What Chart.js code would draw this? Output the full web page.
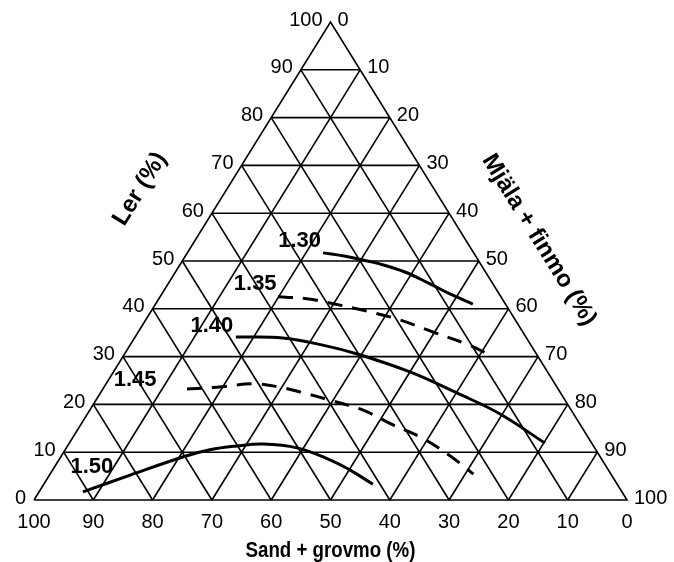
<!DOCTYPE html>
<html lang="sv">
<head>
    <meta charset="UTF-8">
    <title>Ler / Mjäla / Sand</title>
    <script src="https://cdn.jsdelivr.net/npm/chart.js"></script>
    <style>
        body { margin: 0; background: #fff; }
        #wrap { width: 674px; height: 562px; position: relative; }
    </style>
</head>
<body>
    <div id="wrap"><canvas id="chart"></canvas></div>
    <script>
        // tick labels on the three sides
        const lerTicks = [0, 10, 20, 30, 40, 50, 60, 70, 80, 90, 100];
        const mjalaTicks = [0, 10, 20, 30, 40, 50, 60, 70, 80, 90, 100];
        const sandTicks = [100, 90, 80, 70, 60, 50, 40, 30, 20, 10, 0];

        // curves, as sand % and ler %
        const curveNames = ['1.30', '1.35', '1.40', '1.45', '1.50'];
        const curveDashed = [false, true, false, true, false];
        const sand130 = [25.4, 22.0, 20.1, 17.0, 13.6, 10.6, 8.3, 5.5];
        const ler130  = [51.7, 51.0, 50.4, 49.4, 47.7, 45.2, 43.1, 41.0];
        const sand135 = [37.6, 32.9, 29.5, 24.1, 19.5, 15.1, 10.7, 7.9];
        const ler135  = [42.5, 42.1, 41.2, 39.5, 37.7, 35.1, 32.6, 30.3];
        const sand140 = [48.9, 41.1, 35.1, 30.1, 23.2, 17.5, 12.4, 7.9];
        const ler140  = [34.1, 33.9, 32.4, 30.5, 26.8, 22.4, 18.0, 11.9];
        const sand145 = [62.6, 57.3, 50.9, 46.7, 43.8, 39.2, 35.1, 31.6, 28.1, 25.2, 23.2];
        const ler145  = [23.2, 23.6, 24.3, 23.6, 22.6, 20.7, 18.8, 15.7, 13.0, 9.2, 5.4];
        const sand150 = [90.9, 81.2, 70.4, 65.1, 60.1, 55.5, 50.2, 45.9, 43.6, 41.2];
        const ler150  = [1.7, 5.2, 9.0, 10.5, 11.3, 11.7, 10.9, 8.4, 6.3, 3.3];
        const curveSand = [sand130, sand135, sand140, sand145, sand150];
        const curveLer = [ler130, ler135, ler140, ler145, ler150];

        // where the curve names sit (sand %, ler %)
        const nameSand = [28.1, 40.1, 51.8, 70.4, 86.8];
        const nameLer  = [54.2, 45.2, 36.4, 25.1, 6.9];

        // ternary -> cartesian (base 0..100, height 0..100)
        function tern(sand, ler) {
            return { x: 100 - sand - ler / 2, y: ler };
        }

        const datasets = [];
        const gridStyle = { borderColor: '#000', borderWidth: 1.6, pointRadius: 0, showLine: true, tension: 0, clip: 6 };

        for (let v = 10; v < 100; v += 10) {
            datasets.push(Object.assign({ data: [tern(100 - v, v), tern(0, v)] }, gridStyle));
            datasets.push(Object.assign({ data: [tern(v, 100 - v), tern(v, 0)] }, gridStyle));
            datasets.push(Object.assign({ data: [tern(0, 100 - v), tern(100 - v, 0)] }, gridStyle));
        }
        datasets.push(Object.assign({ data: [tern(100, 0), tern(0, 0), tern(0, 100), tern(100, 0)] }, gridStyle));

        curveNames.forEach((name, i) => {
            datasets.push({
                label: name,
                data: curveSand[i].map((s, j) => tern(s, curveLer[i][j])),
                borderColor: '#000',
                borderWidth: 3,
                borderDash: curveDashed[i] ? [15, 10] : [],
                pointRadius: 0,
                showLine: true,
                tension: 0.4,
                clip: 6
            });
        });

        const font = '"Liberation Sans", Arial, sans-serif';

        const labelsPlugin = {
            id: 'ternaryLabels',
            afterDatasetsDraw(chart) {
                const ctx = chart.ctx;
                const xs = chart.scales.x, ys = chart.scales.y;
                const px = p => [xs.getPixelForValue(p.x), ys.getPixelForValue(p.y)];
                ctx.save();
                ctx.fillStyle = '#000';
                ctx.font = '20px ' + font;
                ctx.textBaseline = 'middle';

                ctx.textAlign = 'right';
                lerTicks.forEach(v => {
                    const [x, y] = px(tern(100 - v, v));
                    ctx.fillText(String(v), x - 8, y - 2);
                });
                ctx.textAlign = 'left';
                mjalaTicks.forEach(v => {
                    const [x, y] = px(tern(0, 100 - v));
                    ctx.fillText(String(v), x + 7, y - 2);
                });
                ctx.textAlign = 'center';
                sandTicks.forEach(v => {
                    const [x, y] = px(tern(v, 0));
                    ctx.fillText(String(v), x, y + 22);
                });

                ctx.font = 'bold 22px ' + font;
                curveNames.forEach((name, i) => {
                    const [x, y] = px(tern(nameSand[i], nameLer[i]));
                    ctx.fillText(name, x, y);
                });

                const [bx] = px(tern(50, 0));
                ctx.save();
                ctx.translate(bx, 551);
                ctx.scale(0.85, 1);
                ctx.font = 'bold 22px ' + font;
                ctx.fillText('Sand + grovmo (%)', 0, 0);
                ctx.restore();

                ctx.font = 'bold 24px ' + font;
                ctx.save();
                ctx.translate(140, 189);
                ctx.rotate(-58.3 * Math.PI / 180);
                ctx.fillText('Ler (%)', 0, 0);
                ctx.restore();

                ctx.save();
                ctx.translate(539, 240);
                ctx.rotate(58.3 * Math.PI / 180);
                ctx.fillText('Mjäla + finmo (%)', 0, 0);
                ctx.restore();

                ctx.restore();
            }
        };

        new Chart(document.getElementById('chart'), {
            type: 'scatter',
            data: { datasets },
            options: {
                responsive: true,
                maintainAspectRatio: false,
                animation: false,
                layout: { padding: { left: 34, right: 47, top: 22, bottom: 62 } },
                plugins: { legend: { display: false }, tooltip: { enabled: false } },
                scales: {
                    x: { type: 'linear', min: 0, max: 100, display: false },
                    y: { type: 'linear', min: 0, max: 100, display: false }
                }
            },
            plugins: [labelsPlugin]
        });
    </script>
</body>
</html>
